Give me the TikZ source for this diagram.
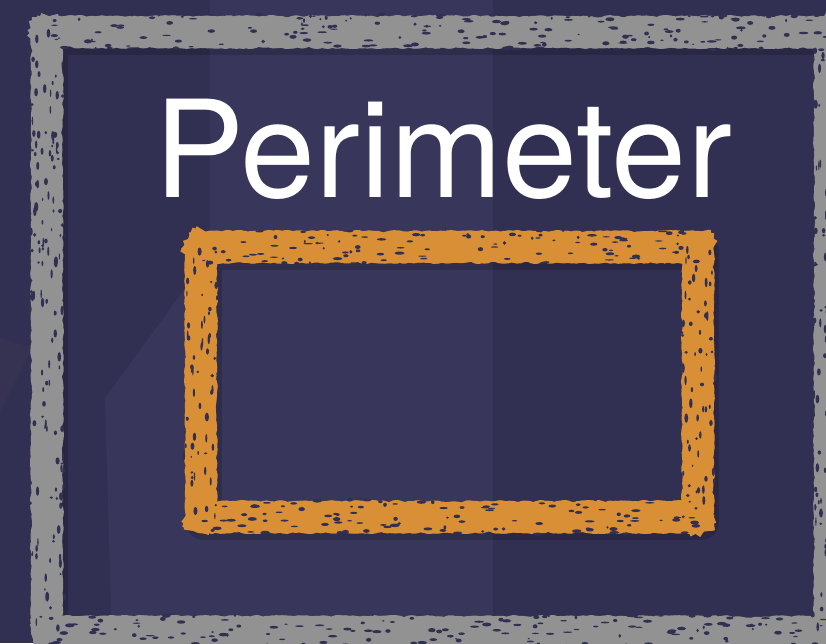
\documentclass[tikz,border=0pt]{standalone}
\usepackage{fontspec}
\setmainfont{TeX Gyre Heros}
\usetikzlibrary{decorations.pathmorphing,calc}
\definecolor{pmBack}{HTML}{312F52}
\definecolor{pmPanel}{HTML}{38365A}
\definecolor{pmWedge}{HTML}{363352}
\definecolor{pmChalk}{HTML}{929292}
\definecolor{pmOrange}{HTML}{D98F35}
\tikzset{
  panel/.style={fill=#1, draw=none},
  chalkline/.style={draw=#1, line join=round, line cap=rect,
    decorate, decoration={random steps, segment length=3pt, amplitude=2pt}},
  chalkshadow/.style={draw=black, opacity=0.16, line width=36pt, line join=round, line cap=rect},
  speck/.style={fill=pmBack},
  title/.style={font=\fontsize{135}{135}\selectfont, text=white, inner sep=0pt, anchor=base}
}
\begin{document}
\begin{tikzpicture}[x=1pt, y=-1pt]
  \useasboundingbox (0,0) rectangle (826,643);
  \clip (0,0) rectangle (826,643);
  \pgfmathsetseed{11}
  % background
  \fill[pmBack] (0,0) rectangle (826,643);
  \fill[panel=pmPanel] (210,0) rectangle (493,643);
  \fill[panel=pmPanel] (105,398) -- (200,268) -- (210,268) -- (210,643) -- (112,643) -- cycle;
  \fill[panel=pmWedge] (0,338) -- (32,348) -- (0,412) -- cycle;
  % shadows of the chalk bands
  \draw[chalkshadow, shift={(3,5)}] (47,32) -- (830,32) -- (830,632) -- (47,632) -- cycle;
  \draw[chalkshadow, shift={(3,5)}] (201,247) -- (698,247) -- (698,517) -- (201,517) -- cycle;
  % chalk bands, one stroke per side
  \foreach \ax/\ay/\bx/\by/\col in {
      47/32/830/32/pmChalk, 830/32/830/632/pmChalk, 830/632/47/632/pmChalk, 47/632/47/32/pmChalk,
      201/247/698/247/pmOrange, 698/247/698/517/pmOrange, 698/517/201/517/pmOrange, 201/517/201/247/pmOrange}{
    \foreach \w/\dx/\dy in {30/0/0, 26/1.5/-2, 26/-1.5/2}{
      \draw[chalkline=\col, line width=\w pt, shift={(\dx,\dy)}] (\ax,\ay) -- (\bx,\by);
    }
  }
  % chalk texture
  \foreach \ax/\ay/\bx/\by/\half in {
      47/32/830/32/18, 830/32/830/632/18, 830/632/47/632/18, 47/632/47/32/18,
      201/247/698/247/18, 698/247/698/517/18, 698/517/201/517/18, 201/517/201/247/18}{
    \pgfmathsetmacro\len{veclen(\bx-\ax,\by-\ay)}
    \pgfmathsetmacro\ang{atan2(\by-\ay,\bx-\ax)}
    \pgfmathtruncatemacro\num{\len/4.5}
    \foreach \k in {1,...,\num}{
      \pgfmathsetmacro\t{rnd}
      \pgfmathsetmacro\s{(2*rnd-1)*\half}
      \pgfmathsetmacro\px{\ax+\t*(\bx-\ax)-\s*(\by-\ay)/\len}
      \pgfmathsetmacro\py{\ay+\t*(\by-\ay)+\s*(\bx-\ax)/\len}
      \pgfmathsetmacro\rx{1+4*rnd}
      \pgfmathsetmacro\ry{0.6+1.5*rnd}
      \fill[speck, rotate around={\ang:(\px,\py)}] (\px,\py) ellipse [x radius=\rx, y radius=\ry];
    }
  }
  % title
  \node[title] (perimeter) at (443,197) {Perimeter};
\end{tikzpicture}
\end{document}
